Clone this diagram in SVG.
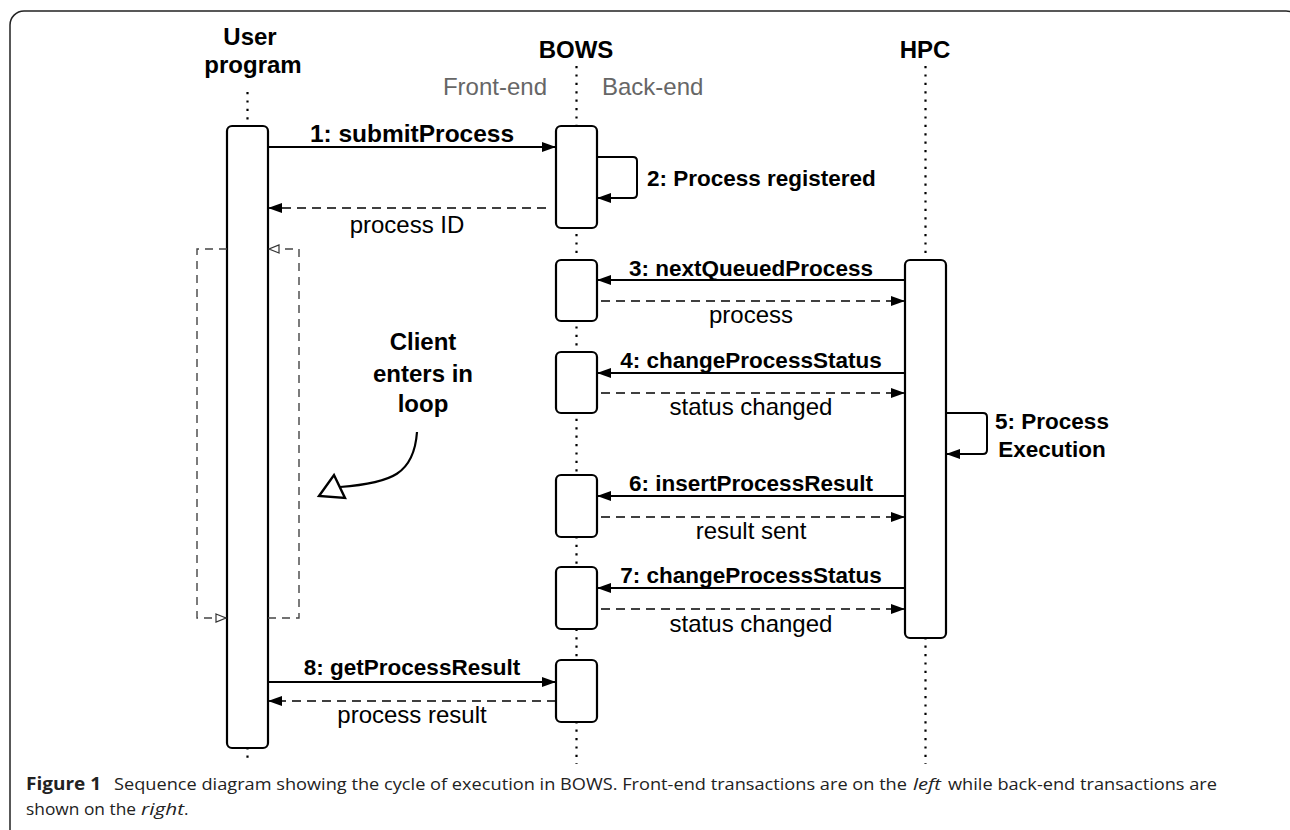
<svg xmlns="http://www.w3.org/2000/svg" width="1290" height="830" viewBox="0 0 1290 830">
<style>
.title{font-family:"Liberation Sans",Arial,sans-serif;font-weight:bold;font-size:24px;fill:#000;text-anchor:middle}
.lbl{font-family:"Liberation Sans",Arial,sans-serif;font-weight:bold;font-size:22.5px;fill:#000;text-anchor:middle}
.lbls{font-family:"Liberation Sans",Arial,sans-serif;font-weight:bold;font-size:22.5px;fill:#000;text-anchor:start}
.ret{font-family:"Liberation Sans",Arial,sans-serif;font-size:24px;fill:#000;text-anchor:middle}
.side{font-family:"Liberation Sans",Arial,sans-serif;font-size:24px;fill:#666}
.cap{font-family:"Open Sans","Noto Sans",sans-serif;font-size:17px;fill:#222}
.life{stroke:#000;stroke-width:2.2;stroke-dasharray:2.2,6.2;fill:none}
.box{fill:#fff;stroke:#000;stroke-width:2.2}
.msg{stroke:#000;stroke-width:2;fill:none;marker-end:url(#fa)}
.dret{stroke:#000;stroke-width:1.6;stroke-dasharray:9,6;fill:none;marker-end:url(#fa)}
.loop{stroke:#444;stroke-width:1.4;stroke-dasharray:8,6;fill:none}
</style>
<defs>
<marker id="fa" markerUnits="userSpaceOnUse" markerWidth="15" markerHeight="12" refX="14" refY="6" orient="auto">
<path d="M0,1 L14,6 L0,11 z" fill="#000"/>
</marker>
<marker id="oa" markerUnits="userSpaceOnUse" markerWidth="13" markerHeight="10" refX="11" refY="5" orient="auto">
<path d="M1,1 L11,5 L1,9 z" fill="#fff" stroke="#333" stroke-width="1.2"/>
</marker>
</defs>
<rect x="10" y="11" width="1290" height="840" rx="14" fill="#fff" stroke="#222" stroke-width="1.5"/>

<g id="lifelines">
<line class="life" x1="247.5" y1="92" x2="247.5" y2="764"/>
<line class="life" x1="576.5" y1="66" x2="576.5" y2="764"/>
<line class="life" x1="925.5" y1="66" x2="925.5" y2="764"/>
</g>

<g id="user-program">
<text class="title" x="250" y="45">User</text>
<text class="title" x="253" y="73">program</text>
<rect class="box" x="227" y="126" width="41" height="622" rx="5"/>
</g>

<g id="bows">
<text class="title" x="576" y="58">BOWS</text>
<text class="side" x="547" y="95" text-anchor="end">Front-end</text>
<text class="side" x="602" y="95">Back-end</text>
<rect class="box" x="556" y="126" width="41" height="102" rx="5"/>
<rect class="box" x="556" y="260" width="41" height="61" rx="5"/>
<rect class="box" x="556" y="352" width="41" height="61" rx="5"/>
<rect class="box" x="556" y="475" width="41" height="62" rx="5"/>
<rect class="box" x="556" y="567" width="41" height="62" rx="5"/>
<rect class="box" x="556" y="660" width="41" height="62" rx="5"/>
</g>

<g id="hpc">
<text class="title" x="925" y="58">HPC</text>
<rect class="box" x="905" y="260" width="41" height="378" rx="5"/>
</g>

<g id="loop-note">
<text class="title" x="423" y="350">Client</text>
<text class="title" x="423" y="382">enters in</text>
<text class="title" x="423" y="412">loop</text>
</g>

<g id="connectors">
<path class="loop" d="M227,249 H197 V618 H226" marker-end="url(#oa)"/>
<path class="loop" d="M268,618 H299 V249 H269" marker-end="url(#oa)"/>
<path d="M417,432 C414,474 392,483 340,487" fill="none" stroke="#000" stroke-width="2.2"/>
<polygon points="319,496 334,475 345,498" fill="#fff" stroke="#000" stroke-width="2.4"/>

<line class="msg" x1="268" y1="147" x2="556" y2="147"/>
<text class="lbl" x="412" y="142" style="font-size:24.5px">1: submitProcess</text>
<path class="msg" d="M597,157 H633 Q637,157 637,161 V194 Q637,198 633,198 H597"/>
<text class="lbls" x="647" y="186">2: Process registered</text>
<line class="dret" x1="546" y1="208" x2="268" y2="208"/>
<text class="ret" x="407" y="233">process ID</text>

<line class="msg" x1="905" y1="280" x2="597" y2="280"/>
<text class="lbl" x="751" y="276">3: nextQueuedProcess</text>
<line class="dret" x1="601" y1="301" x2="905" y2="301"/>
<text class="ret" x="751" y="323">process</text>

<line class="msg" x1="905" y1="373" x2="597" y2="373"/>
<text class="lbl" x="751" y="368">4: changeProcessStatus</text>
<line class="dret" x1="601" y1="393" x2="905" y2="393"/>
<text class="ret" x="751" y="415">status changed</text>

<path class="msg" d="M946,413 H983 Q987,413 987,417 V450 Q987,454 983,454 H946"/>
<text class="lbl" x="1052" y="429">5: Process</text>
<text class="lbl" x="1052" y="457">Execution</text>

<line class="msg" x1="905" y1="496" x2="597" y2="496"/>
<text class="lbl" x="751" y="491">6: insertProcessResult</text>
<line class="dret" x1="601" y1="517" x2="905" y2="517"/>
<text class="ret" x="751" y="539">result sent</text>

<line class="msg" x1="905" y1="588" x2="597" y2="588"/>
<text class="lbl" x="751" y="583">7: changeProcessStatus</text>
<line class="dret" x1="601" y1="609" x2="905" y2="609"/>
<text class="ret" x="751" y="632">status changed</text>

<line class="msg" x1="268" y1="682" x2="556" y2="682"/>
<text class="lbl" x="412" y="675">8: getProcessResult</text>
<line class="dret" x1="556" y1="701" x2="268" y2="701"/>
<text class="ret" x="412" y="723">process result</text>
</g>

<g id="caption">
<text class="cap" x="26" y="790" font-weight="bold" textLength="75" lengthAdjust="spacingAndGlyphs">Figure 1</text>
<text class="cap" x="114" y="790" textLength="793" lengthAdjust="spacingAndGlyphs">Sequence diagram showing the cycle of execution in BOWS. Front-end transactions are on the</text>
<text class="cap" x="913" y="790" font-style="italic" textLength="28" lengthAdjust="spacingAndGlyphs">left</text>
<text class="cap" x="948" y="790" textLength="269" lengthAdjust="spacingAndGlyphs">while back-end transactions are</text>
<text class="cap" x="26" y="815" textLength="110" lengthAdjust="spacingAndGlyphs">shown on the</text>
<text class="cap" x="141" y="815" font-style="italic" textLength="43" lengthAdjust="spacingAndGlyphs">right</text>
<text class="cap" x="184" y="815">.</text>
</g>
</svg>
